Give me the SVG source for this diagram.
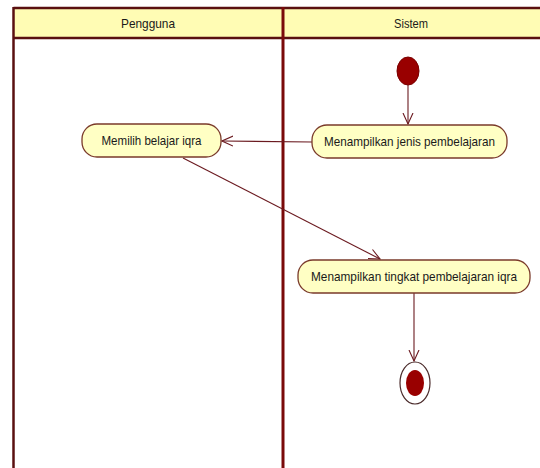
<svg xmlns="http://www.w3.org/2000/svg" width="540" height="468" viewBox="0 0 540 468">
<defs>
<style>
.lbl{font-family:"Liberation Sans","DejaVu Sans",sans-serif;font-size:13px;fill:#1a1a1a;text-anchor:middle}
.node{fill:#ffffc4;stroke:#7a3a2a;stroke-width:1.3}
.edge{stroke:#6b1a20;stroke-width:1.1;fill:none}
</style>
<marker id="arr" viewBox="0 0 12 12" refX="11" refY="6" markerWidth="12" markerHeight="12" markerUnits="userSpaceOnUse" orient="auto">
<path d="M0,1 L11,6 L0,11" fill="none" stroke="#6b1a20" stroke-width="1.1"/>
</marker>
</defs>
<rect width="540" height="468" fill="#ffffff"/>
<g id="swimlanes">
<rect x="13.5" y="8" width="540" height="30" fill="#fffcb4"/>
<line x1="13.5" y1="8" x2="540" y2="8" stroke="#5a1010" stroke-width="2.5"/>
<line x1="13.5" y1="38" x2="540" y2="38" stroke="#5a1010" stroke-width="2.5"/>
<line x1="13.5" y1="7" x2="13.5" y2="468" stroke="#5a1010" stroke-width="2.5"/>
<line x1="283" y1="7" x2="283" y2="468" stroke="#7a0a0a" stroke-width="3"/>
<text class="lbl" x="148" y="27.5" textLength="54" lengthAdjust="spacingAndGlyphs">Pengguna</text>
<text class="lbl" x="411" y="27.5" textLength="34" lengthAdjust="spacingAndGlyphs">Sistem</text>
</g>
<g id="connectors">
<line class="edge" x1="408" y1="85" x2="408" y2="124" marker-end="url(#arr)"/>
<line class="edge" x1="312" y1="142" x2="222" y2="141" marker-end="url(#arr)"/>
<line class="edge" x1="183" y1="158" x2="380" y2="259" marker-end="url(#arr)"/>
<line class="edge" x1="414" y1="293" x2="414" y2="361" marker-end="url(#arr)"/>
</g>
<g id="start">
<ellipse cx="408" cy="71" rx="11" ry="14" fill="#990000" stroke="#7a0000"/>
</g>
<g id="menampilkan-jenis">
<rect class="node" x="312" y="125" width="195" height="33" rx="15" ry="15"/>
<text class="lbl" x="409.5" y="146" textLength="171" lengthAdjust="spacingAndGlyphs">Menampilkan jenis pembelajaran</text>
</g>
<g id="memilih">
<rect class="node" x="82" y="124" width="139" height="33" rx="15" ry="15"/>
<text class="lbl" x="151.5" y="145" textLength="100" lengthAdjust="spacingAndGlyphs">Memilih belajar iqra</text>
</g>
<g id="menampilkan-tingkat">
<rect class="node" x="298" y="260" width="232" height="33" rx="15" ry="15"/>
<text class="lbl" x="414" y="281" textLength="206" lengthAdjust="spacingAndGlyphs">Menampilkan tingkat pembelajaran iqra</text>
</g>
<g id="end">
<ellipse cx="415" cy="383" rx="15" ry="21" fill="#ffffff" stroke="#4a2a2a" stroke-width="1.2"/>
<ellipse cx="415" cy="383" rx="9" ry="13" fill="#990000"/>
</g>
</svg>
